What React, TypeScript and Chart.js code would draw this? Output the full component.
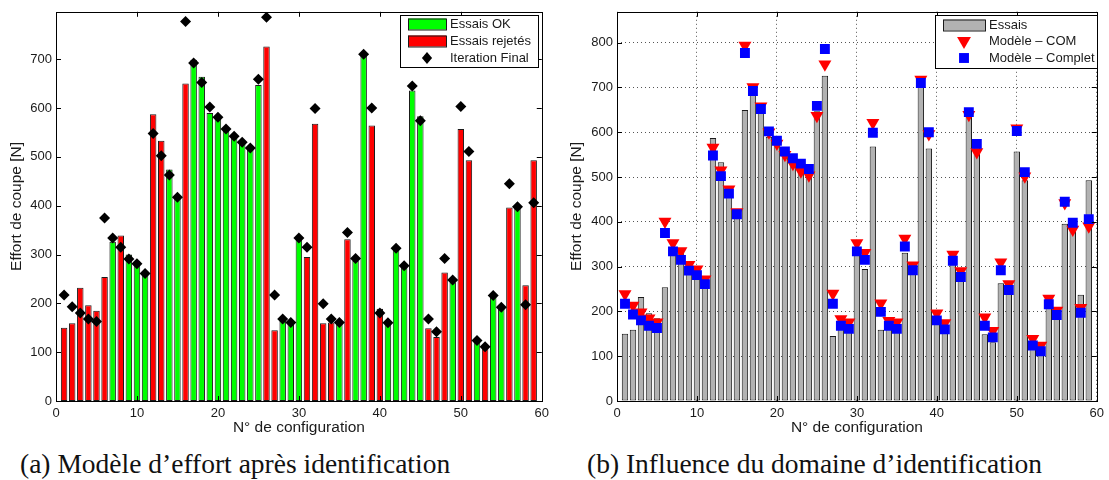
import React, { useEffect, useRef } from 'react';
import { Chart, registerables } from 'chart.js';

Chart.register(...registerables);

// ---------- data ----------
const configs = [
  1, 2, 3, 4, 5, 6, 7, 8, 9, 10, 11, 12, 13, 14, 15, 16, 17, 18, 19, 20,
  21, 22, 23, 24, 25, 26, 27, 28, 29, 30, 31, 32, 33, 34, 35, 36, 37, 38, 39, 40,
  41, 42, 43, 44, 45, 46, 47, 48, 49, 50, 51, 52, 53, 54, 55, 56, 57, 58, 59,
];
// measured cutting effort (bars)
const essais = [
  150, 159, 232, 196, 185, 254, 326, 339, 300, 287, 265, 587, 533, 474, 416, 650, 699, 664, 590, 580,
  553, 541, 531, 521, 647, 726, 145, 165, 161, 332, 295, 568, 159, 161, 158, 331, 287, 708, 564, 189,
  159, 311, 280, 636, 583, 149, 131, 263, 243, 557, 493, 123, 109, 219, 195, 396, 399, 237, 493,
];
// OK = accepted test, R = rejected test
const statut = [
  'R', 'R', 'R', 'R', 'R', 'R', 'OK', 'R', 'OK', 'OK', 'OK', 'R', 'R', 'OK', 'OK', 'R', 'OK', 'OK', 'OK', 'OK',
  'OK', 'OK', 'OK', 'OK', 'OK', 'R', 'R', 'OK', 'OK', 'OK', 'R', 'R', 'R', 'R', 'OK', 'R', 'OK', 'OK', 'R', 'R',
  'OK', 'OK', 'OK', 'OK', 'OK', 'R', 'R', 'R', 'OK', 'R', 'R', 'OK', 'R', 'OK', 'OK', 'R', 'OK', 'R', 'R',
];
// final iteration / complete model
const modeleComplet = [
  217, 193, 180, 168, 163, 375, 334, 315, 291, 281, 261, 548, 502, 463, 417, 777, 692, 652, 602, 581,
  557, 542, 530, 518, 659, 786, 217, 168, 161, 334, 315, 599, 199, 168, 161, 345, 292, 710, 600, 180,
  160, 313, 277, 645, 574, 168, 142, 292, 248, 603, 511, 124, 111, 216, 192, 445, 398, 197, 406,
];
// COM model
const modeleCOM = [
  239, 213, 198, 185, 176, 401, 353, 335, 304, 294, 272, 566, 515, 473, 422, 794, 701, 658, 600, 575,
  550, 530, 513, 504, 637, 752, 240, 183, 176, 353, 331, 621, 218, 179, 176, 363, 303, 718, 596, 196,
  174, 327, 290, 639, 556, 187, 157, 310, 261, 609, 502, 139, 124, 229, 202, 442, 383, 208, 390,
];

const xTicks = [0, 10, 20, 30, 40, 50, 60];
const yTicksLeft = [0, 100, 200, 300, 400, 500, 600, 700];
const yTicksRight = [0, 100, 200, 300, 400, 500, 600, 700, 800];

const xLabel = 'N° de configuration';
const yLabel = 'Effort de coupe [N]';
const captionA = '(a) Modèle d’effort après identification';
const captionB = '(b) Influence du domaine d’identification';

// ---------- styles ----------
const SANS = "'Liberation Sans', Arial, Helvetica, sans-serif";
const TEXT = '#1a1a1a';
const GREEN = '#00ff00';
const RED = '#ff0000';
const GREY = '#b2b2b2';
const BLUE = '#0000ff';
const EDGE = '#1a1a1a';

function drawMarker(ctx: CanvasRenderingContext2D, kind: string, x: number, y: number, r: number, color: string) {
  ctx.fillStyle = color;
  ctx.beginPath();
  if (kind === 'diamond') {
    ctx.moveTo(x, y - r);
    ctx.lineTo(x + r * 0.85, y);
    ctx.lineTo(x, y + r);
    ctx.lineTo(x - r * 0.85, y);
  } else if (kind === 'tri') {
    ctx.moveTo(x - r * 0.866, y - r / 2);
    ctx.lineTo(x + r * 0.866, y - r / 2);
    ctx.lineTo(x, y + r);
  } else {
    const s = r * Math.SQRT1_2;
    ctx.rect(x - s, y - s, 2 * s, 2 * s);
  }
  ctx.closePath();
  ctx.fill();
}

const matlabAxes = {
  id: 'matlabAxes',
  afterDraw(chart: any, _args: any, opts: any) {
    const { ctx, chartArea } = chart;
    const { left, right, top, bottom } = chartArea;
    const xs = chart.scales.x;
    const ys = chart.scales.y;
    ctx.save();
    ctx.strokeStyle = '#000';
    ctx.lineWidth = 1;
    const tl = 5;
    ctx.beginPath();
    xs.ticks.forEach((t: any) => {
      const px = Math.round(xs.getPixelForValue(t.value)) + 0.5;
      if (px <= left + 2 || px >= right - 2) return;
      ctx.moveTo(px, bottom);
      ctx.lineTo(px, bottom - tl);
      ctx.moveTo(px, top);
      ctx.lineTo(px, top + tl);
    });
    ys.ticks.forEach((t: any) => {
      const py = Math.round(ys.getPixelForValue(t.value)) + 0.5;
      if (py <= top + 2 || py >= bottom - 2) return;
      ctx.moveTo(left, py);
      ctx.lineTo(left + tl, py);
      ctx.moveTo(right, py);
      ctx.lineTo(right - tl, py);
    });
    ctx.stroke();
    ctx.strokeRect(Math.round(left) + 0.5, Math.round(top) + 0.5, Math.round(right - left), Math.round(bottom - top));

    // legend box
    const lg = opts && opts.legend;
    if (lg) {
      ctx.fillStyle = '#fff';
      ctx.fillRect(lg.x, lg.y, lg.w, lg.h);
      ctx.strokeRect(lg.x + 0.5, lg.y + 0.5, lg.w, lg.h);
      ctx.font = `13px ${SANS}`;
      ctx.textBaseline = 'middle';
      ctx.textAlign = 'left';
      lg.items.forEach((it: any, i: number) => {
        const cy = lg.rows[i];
        if (it.kind === 'bar') {
          ctx.fillStyle = it.fill;
          ctx.fillRect(lg.patchX, cy - 5.5, lg.patchW, 11);
          ctx.strokeStyle = EDGE;
          ctx.strokeRect(lg.patchX + 0.5, cy - 5.5 + 0.5, lg.patchW, 11);
        } else {
          drawMarker(ctx, it.kind, lg.patchX + lg.patchW / 2, cy, it.r, it.fill);
        }
        ctx.fillStyle = TEXT;
        ctx.fillText(it.label, lg.textX, cy + 0.5);
      });
    }
    ctx.restore();
  },
};

function makeScales(yMax: number, yWidth: number, grid: boolean, yTicks: number[]) {
  const tickFont = { family: SANS, size: 13 };
  const titleFont = { family: SANS, size: 15.5 };
  const gridOpts = { display: grid, drawTicks: false, color: '#555', lineWidth: 1, offset: false };
  const borderOpts = { display: false, dash: [1, 3] };
  return {
    x: {
      type: 'linear',
      min: 0,
      max: 60,
      offset: false,
      afterBuildTicks: (s: any) => {
        s.ticks = xTicks.map((v) => ({ value: v }));
      },
      ticks: { padding: 5, color: TEXT, font: tickFont, maxRotation: 0, autoSkip: false },
      grid: gridOpts,
      border: borderOpts,
      title: { display: true, text: xLabel, color: TEXT, font: titleFont, padding: { top: 0, bottom: 3 } },
      afterFit: (s: any) => {
        s.height = 39;
      },
    },
    y: {
      type: 'linear',
      min: 0,
      max: yMax,
      afterBuildTicks: (s: any) => {
        s.ticks = yTicks.map((v) => ({ value: v }));
      },
      ticks: { padding: 4, color: TEXT, font: tickFont },
      grid: gridOpts,
      border: borderOpts,
      title: { display: true, text: yLabel, color: TEXT, font: titleFont, padding: { top: 7, bottom: 0 } },
      afterFit: (s: any) => {
        s.width = yWidth;
      },
    },
  };
}

function leftConfig(): any {
  const ok = configs.map((c, i) => (statut[i] === 'OK' ? { x: c, y: essais[i] } : null)).filter(Boolean);
  const rej = configs.map((c, i) => (statut[i] === 'R' ? { x: c, y: essais[i] } : null)).filter(Boolean);
  const barCommon = {
    type: 'bar',
    grouped: false,
    barPercentage: 0.8,
    categoryPercentage: 1,
    borderWidth: 1,
    borderColor: EDGE,
    borderSkipped: false,
    order: 1,
  };
  return {
    type: 'bar',
    data: {
      datasets: [
        {
          type: 'scatter',
          label: 'Iteration Final',
          data: configs.map((c, i) => ({ x: c, y: modeleComplet[i] })),
          pointStyle: 'rectRot',
          pointRadius: 5.5,
          backgroundColor: '#000',
          borderColor: '#000',
          borderWidth: 0,
          order: 0,
        },
        { ...barCommon, label: 'Essais OK', data: ok, backgroundColor: GREEN },
        { ...barCommon, label: 'Essais rejetés', data: rej, backgroundColor: RED },
      ],
    },
    options: {
      responsive: false,
      devicePixelRatio: 1,
      animation: false,
      layout: { padding: { top: 9, right: 11, left: 0, bottom: 0 } },
      scales: makeScales(797, 56, false, yTicksLeft),
      plugins: {
        legend: { display: false },
        tooltip: { enabled: false },
        matlabAxes: {
          legend: {
            x: 400,
            y: 15,
            w: 138,
            h: 52,
            patchX: 408,
            patchW: 38,
            textX: 450,
            rows: [24, 41, 58],
            items: [
              { label: 'Essais OK', kind: 'bar', fill: GREEN },
              { label: 'Essais rejetés', kind: 'bar', fill: RED },
              { label: 'Iteration Final', kind: 'diamond', fill: '#000', r: 6 },
            ],
          },
        },
      },
    },
    plugins: [matlabAxes],
  };
}

function rightConfig(): any {
  return {
    type: 'bar',
    data: {
      datasets: [
        {
          type: 'scatter',
          label: 'Modèle – Complet',
          data: configs.map((c, i) => ({ x: c, y: modeleComplet[i] })),
          pointStyle: 'rect',
          pointRadius: 7,
          backgroundColor: BLUE,
          borderColor: BLUE,
          borderWidth: 0,
          order: 0,
        },
        {
          type: 'scatter',
          label: 'Modèle – COM',
          data: configs.map((c, i) => ({ x: c, y: modeleCOM[i] })),
          pointStyle: 'triangle',
          rotation: 180,
          pointRadius: 7.5,
          backgroundColor: RED,
          borderColor: RED,
          borderWidth: 0,
          order: 1,
        },
        {
          type: 'bar',
          label: 'Essais',
          data: configs.map((c, i) => ({ x: c, y: essais[i] })),
          barPercentage: 0.8,
          categoryPercentage: 1,
          backgroundColor: GREY,
          borderColor: EDGE,
          borderWidth: 1,
          borderSkipped: false,
          order: 2,
        },
      ],
    },
    options: {
      responsive: false,
      devicePixelRatio: 1,
      animation: false,
      layout: { padding: { top: 9, right: 6, left: 0, bottom: 0 } },
      scales: makeScales(869, 57, true, yTicksRight),
      plugins: {
        legend: { display: false },
        tooltip: { enabled: false },
        matlabAxes: {
          legend: {
            x: 375,
            y: 15,
            w: 162,
            h: 53,
            patchX: 383,
            patchW: 42,
            textX: 429,
            rows: [25, 41, 58],
            items: [
              { label: 'Essais', kind: 'bar', fill: GREY },
              { label: 'Modèle – COM', kind: 'tri', fill: RED, r: 8 },
              { label: 'Modèle – Complet', kind: 'square', fill: BLUE, r: 7 },
            ],
          },
        },
      },
    },
    plugins: [matlabAxes],
  };
}

function Plot(props: { make: () => any; left: number; width: number; height: number }) {
  const ref = useRef<HTMLCanvasElement>(null);
  useEffect(() => {
    const chart = new Chart(ref.current as HTMLCanvasElement, props.make());
    return () => chart.destroy();
  }, []);
  return (
    <canvas
      ref={ref}
      width={props.width}
      height={props.height}
      style={{ position: 'absolute', left: props.left, top: 0, width: props.width, height: props.height }}
    />
  );
}

const captionStyle: React.CSSProperties = {
  position: 'absolute',
  top: 450,
  fontFamily: "'Liberation Serif', 'DejaVu Serif', serif",
  fontSize: 27.5,
  lineHeight: '27px',
  whiteSpace: 'nowrap',
  color: '#111',
};

export default function App() {
  return (
    <div style={{ position: 'absolute', left: 0, top: 0, width: 1109, height: 480, background: '#fff', overflow: 'hidden' }}>
      <Plot make={leftConfig} left={0} width={554} height={440} />
      <Plot make={rightConfig} left={560} width={549} height={440} />
      <div style={{ ...captionStyle, left: 20 }}>{captionA}</div>
      <div style={{ ...captionStyle, left: 587 }}>{captionB}</div>
    </div>
  );
}
